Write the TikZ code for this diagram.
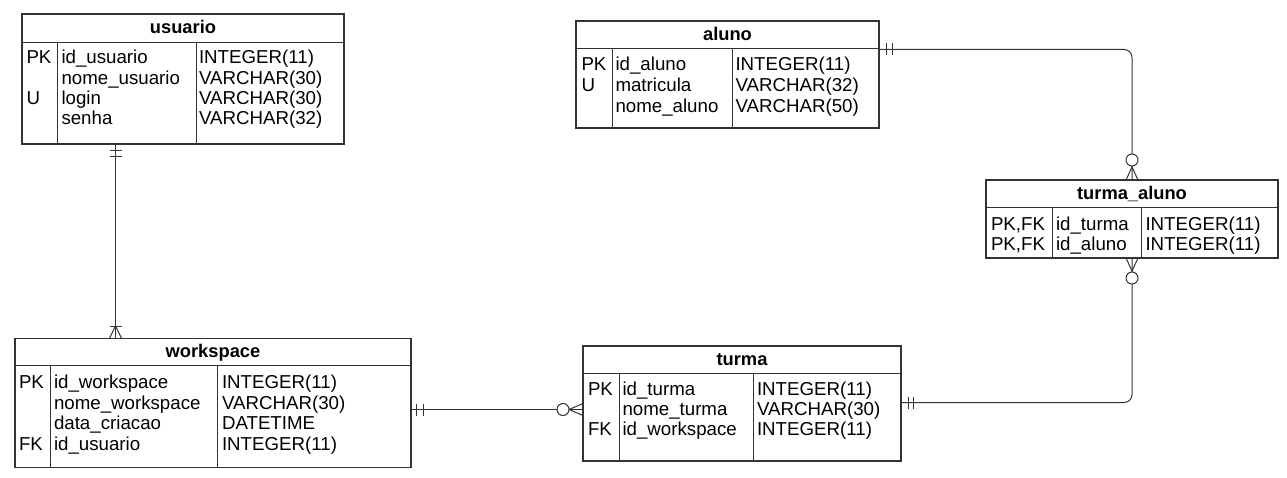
\documentclass[tikz,border=0pt]{standalone}
\usepackage{fontspec}
\setmainfont{Liberation Sans}
\definecolor{ln}{HTML}{333333}
\begin{document}
\begin{tikzpicture}[x=1pt,y=-1pt,
  tbl/.style={draw=ln, line width=1.1pt, anchor=north west, inner sep=0pt, outer sep=0pt},
  sep/.style={draw=ln, line width=1pt},
  cell/.style={anchor=base west, inner sep=0pt, outer sep=0pt, font=\fontsize{18.7}{20}\selectfont},
  hdr/.style={anchor=base, inner sep=0pt, outer sep=0pt, font=\fontsize{18.3}{20}\selectfont\bfseries},
  rel/.style={draw=ln, line width=1pt},
  mk/.style={draw=ln, line width=1pt},
  opt/.style={draw=ln, fill=white, line width=1pt}]
\useasboundingbox[fill=white] (0,0) rectangle (1287,478);

% ---------- usuario ----------
\node[tbl, minimum width=322pt, minimum height=130pt] (usuario) at (22,14) {};
\draw[sep] (22,42.7) -- (344,42.7);
\draw[sep] (57,42.7) -- (57,144);
\draw[sep] (196,42.7) -- (196,144);
\node[hdr] (uh) at (183,34) {usuario};
\node[cell] (uk1) at (26.5,64) {PK};
\node[cell] (uf1) at (61.5,64) {id\_usuario};
\node[cell] (ut1) at (199,64) {INTEGER(11)};
\node[cell] (uf2) at (61.5,84.1) {nome\_usuario};
\node[cell] (ut2) at (199,84.1) {VARCHAR(30)};
\node[cell] (uk3) at (26.5,104.2) {U};
\node[cell] (uf3) at (61.5,104.2) {login};
\node[cell] (ut3) at (199,104.2) {VARCHAR(30)};
\node[cell] (uf4) at (61.5,124.3) {senha};
\node[cell] (ut4) at (199,124.3) {VARCHAR(32)};

% ---------- aluno ----------
\node[tbl, minimum width=303pt, minimum height=107pt] (aluno) at (576,21) {};
\draw[sep] (576,49) -- (879,49);
\draw[sep] (612,49) -- (612,128);
\draw[sep] (732,49) -- (732,128);
\node[hdr] (ah) at (727.5,40.7) {aluno};
\node[cell] (ak1) at (581.5,71) {PK};
\node[cell] (af1) at (615.5,71) {id\_aluno};
\node[cell] (at1) at (735.5,71) {INTEGER(11)};
\node[cell] (ak2) at (581.5,92) {U};
\node[cell] (af2) at (615.5,92) {matricula};
\node[cell] (at2) at (735.5,92) {VARCHAR(32)};
\node[cell] (af3) at (615.5,113) {nome\_aluno};
\node[cell] (at3) at (735.5,113) {VARCHAR(50)};

% ---------- turma_aluno ----------
\node[tbl, minimum width=292pt, minimum height=78pt] (turma_aluno) at (986,180) {};
\draw[sep] (986,207.7) -- (1278,207.7);
\draw[sep] (1052.3,207.7) -- (1052.3,258);
\draw[sep] (1141.7,207.7) -- (1141.7,258);
\node[hdr] (tah) at (1132,200) {turma\_aluno};
\node[cell] (tak1) at (991,231) {PK,FK};
\node[cell] (taf1) at (1056,231) {id\_turma};
\node[cell] (tat1) at (1145.5,231) {INTEGER(11)};
\node[cell] (tak2) at (991,251) {PK,FK};
\node[cell] (taf2) at (1056,251) {id\_aluno};
\node[cell] (tat2) at (1145.5,251) {INTEGER(11)};

% ---------- workspace ----------
\node[tbl, minimum width=396pt, minimum height=129pt] (workspace) at (15,338.3) {};
\draw[sep] (15,365.7) -- (411,365.7);
\draw[sep] (50,365.7) -- (50,467.3);
\draw[sep] (217.3,365.7) -- (217.3,467.3);
\node[hdr] (wh) at (213,357.3) {workspace};
\node[cell] (wk1) at (19,388.7) {PK};
\node[cell] (wf1) at (54,388.7) {id\_workspace};
\node[cell] (wt1) at (222,388.7) {INTEGER(11)};
\node[cell] (wf2) at (54,409.1) {nome\_workspace};
\node[cell] (wt2) at (222,409.1) {VARCHAR(30)};
\node[cell] (wf3) at (54,429.5) {data\_criacao};
\node[cell] (wt3) at (222,429.5) {DATETIME};
\node[cell] (wk4) at (19,450) {FK};
\node[cell] (wf4) at (54,450) {id\_usuario};
\node[cell] (wt4) at (222,450) {INTEGER(11)};

% ---------- turma ----------
\node[tbl, minimum width=318pt, minimum height=115pt] (turma) at (583,346) {};
\draw[sep] (583,373) -- (901,373);
\draw[sep] (619,373) -- (619,461);
\draw[sep] (753,373) -- (753,461);
\node[hdr] (th) at (742,365.7) {turma};
\node[cell] (tk1) at (588,395.7) {PK};
\node[cell] (tf1) at (622.5,395.7) {id\_turma};
\node[cell] (tt1) at (757,395.7) {INTEGER(11)};
\node[cell] (tf2) at (622.5,415.5) {nome\_turma};
\node[cell] (tt2) at (757,415.5) {VARCHAR(30)};
\node[cell] (tk3) at (588,435.3) {FK};
\node[cell] (tf3) at (622.5,435.3) {id\_workspace};
\node[cell] (tt3) at (757,435.3) {INTEGER(11)};

% ---------- connectors ----------
\coordinate (cx1) at (115.5,0);
\coordinate (cy2) at (0,409.5);
\coordinate (cy3) at (0,49.5);
\coordinate (cy4) at (0,402.5);

% usuario -> workspace (one and only one / one or many)
\draw[rel] (usuario.south -| cx1) -- (workspace.north -| cx1);
\draw[mk] (109.5,150.5) -- (121.5,150.5);
\draw[mk] (109.5,156.5) -- (121.5,156.5);
\draw[mk] (109.5,326) -- (121.5,326);
\draw[mk] (109.5,338.3) -- (115.5,326) -- (121.5,338.3);

% workspace -> turma (one and only one / zero or many)
\draw[rel] (workspace.east |- cy2) -- (turma.west |- cy2);
\draw[mk] (416.5,403.5) -- (416.5,415.5);
\draw[mk] (423.5,403.5) -- (423.5,415.5);
\draw[mk] (583,403.5) -- (569,409.5) -- (583,415.5);
\draw[opt] (563,409.5) circle (6);

% aluno -> turma_aluno
\draw[rel, rounded corners=8pt] (aluno.east |- cy3) -| (turma_aluno.north);
\draw[mk] (886.5,43.5) -- (886.5,55.5);
\draw[mk] (892.5,43.5) -- (892.5,55.5);
\draw[mk] (1126,180) -- (1132,167) -- (1138,180);
\draw[opt] (1132,160) circle (6);

% turma -> turma_aluno
\draw[rel, rounded corners=8pt] (turma.east |- cy4) -| (turma_aluno.south);
\draw[mk] (908.5,396.5) -- (908.5,408.5);
\draw[mk] (913.5,396.5) -- (913.5,408.5);
\draw[mk] (1126,258) -- (1132,271) -- (1138,258);
\draw[opt] (1132,278) circle (6);
\end{tikzpicture}
\end{document}
